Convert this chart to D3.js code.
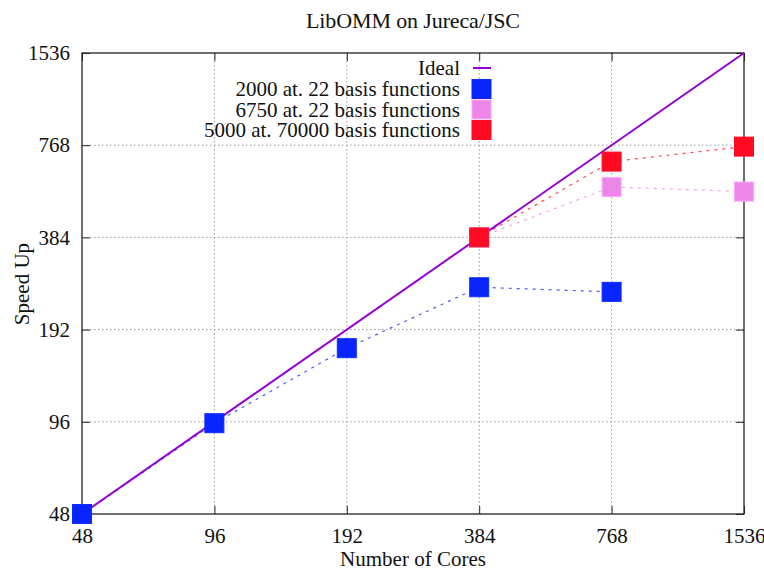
<!DOCTYPE html>
<html>
<head>
<meta charset="utf-8">
<script src="https://cdn.jsdelivr.net/npm/d3@7"></script>
<style>
    body { margin: 0; background: #fff; font-family: "Liberation Serif", serif; }
    .grid-line { stroke: #999; stroke-width: 1; stroke-dasharray: 1.5 2.5; }
</style>
</head>
<body>
<div id="chart"></div>
<script>
const tickValues = [48, 96, 192, 384, 768, 1536];

const cores2000 = [48, 96, 192, 384, 768];
const speed2000 = [48, 95, 167, 264, 255];

const cores6750 = [384, 768, 1536];
const speed6750 = [384, 561, 542];

const cores5000 = [384, 768, 1536];
const speed5000 = [384, 679, 760];

const idealCores = [48, 1536];
const idealSpeed = [48, 1536];

const seriesNames = ["2000 at. 22 basis functions", "6750 at. 22 basis functions", "5000 at. 70000 basis functions"];
const seriesColors = ["#0a24ff", "#ee85e8", "#ff0a20"];

const margin = { top: 53, right: 20, bottom: 57, left: 82 };
const width = 764 - margin.left - margin.right;
const height = 571 - margin.top - margin.bottom;

const svg = d3.select("#chart")
    .append("svg")
    .attr("width", 764)
    .attr("height", 571);

const g = svg.append("g")
    .attr("transform", `translate(${margin.left},${margin.top})`);

const xScale = d3.scaleLog().base(2).domain([48, 1536]).range([0, width]);
const yScale = d3.scaleLog().base(2).domain([48, 1536]).range([height, 0]);

// grid
g.selectAll(".x-grid")
    .data(tickValues.slice(1, -1))
    .enter()
    .append("line")
    .attr("class", "grid-line")
    .attr("x1", d => xScale(d))
    .attr("x2", d => xScale(d))
    .attr("y1", 0)
    .attr("y2", height);

g.selectAll(".y-grid")
    .data(tickValues.slice(1, -1))
    .enter()
    .append("line")
    .attr("class", "grid-line")
    .attr("x1", 0)
    .attr("x2", width)
    .attr("y1", d => yScale(d))
    .attr("y2", d => yScale(d));

// axes (ticks inward, mirrored)
const fmt = d => d;
const xAxis = g.append("g")
    .attr("transform", `translate(0,${height})`)
    .call(d3.axisBottom(xScale).tickValues(tickValues).tickFormat(fmt).tickSizeInner(-8).tickSizeOuter(0).tickPadding(14));
const yAxis = g.append("g")
    .call(d3.axisLeft(yScale).tickValues(tickValues).tickFormat(fmt).tickSizeInner(-8).tickSizeOuter(0).tickPadding(12));
g.append("g")
    .call(d3.axisTop(xScale).tickValues(tickValues).tickFormat("").tickSizeInner(-8).tickSizeOuter(0));
g.append("g")
    .attr("transform", `translate(${width},0)`)
    .call(d3.axisRight(yScale).tickValues(tickValues).tickFormat("").tickSizeInner(-8).tickSizeOuter(0));

g.selectAll(".domain").remove();
g.selectAll(".tick line").attr("stroke", "#222");
xAxis.selectAll("text").style("font-size", "21px");
yAxis.selectAll("text").style("font-size", "21px");

g.append("rect")
    .attr("width", width)
    .attr("height", height)
    .attr("fill", "none")
    .attr("stroke", "#222")
    .attr("stroke-width", 1.3);

// title & labels
svg.append("text")
    .attr("x", 413)
    .attr("y", 28)
    .attr("text-anchor", "middle")
    .attr("textLength", 214)
    .attr("lengthAdjust", "spacing")
    .style("font-size", "22px")
    .text("LibOMM on Jureca/JSC");

svg.append("text")
    .attr("x", 413)
    .attr("y", 566)
    .attr("text-anchor", "middle")
    .style("font-size", "21px")
    .text("Number of Cores");

svg.append("text")
    .attr("transform", "rotate(-90)")
    .attr("x", -284)
    .attr("y", 29)
    .attr("text-anchor", "middle")
    .style("font-size", "21px")
    .text("Speed Up");

// ideal line
const idealData = idealCores.map((c, i) => ({ c: c, s: idealSpeed[i] }));
const line = d3.line()
    .x(d => xScale(d.c))
    .y(d => yScale(d.s));

const series = [
    { cores: cores2000, speed: speed2000 },
    { cores: cores6750, speed: speed6750 },
    { cores: cores5000, speed: speed5000 }
].map((s, i) => ({
    name: seriesNames[i],
    color: seriesColors[i],
    values: s.cores.map((c, j) => ({ c: c, s: s.speed[j] }))
}));

// dashed connectors
series.forEach(s => {
    g.append("path")
        .datum(s.values)
        .attr("d", line)
        .attr("fill", "none")
        .attr("stroke", s.color)
        .attr("stroke-width", 1.2)
        .attr("stroke-opacity", 0.75)
        .attr("stroke-dasharray", "3 5");
});

g.append("path")
    .datum(idealData)
    .attr("d", line)
    .attr("fill", "none")
    .attr("stroke", "#9400d3")
    .attr("stroke-width", 2);

// markers
const size = 19;
series.forEach(s => {
    g.selectAll(null)
        .data(s.values)
        .enter()
        .append("rect")
        .attr("x", d => xScale(d.c) - size / 2)
        .attr("y", d => yScale(d.s) - size / 2)
        .attr("width", size)
        .attr("height", size)
        .attr("fill", s.color)
        .attr("stroke", d3.color(s.color).brighter(0.6))
        .attr("stroke-width", 1);
});

// legend
const legend = svg.append("g");
const legendX = 460;
const legendRows = [68, 89, 109.5, 130];

legend.append("text")
    .attr("x", legendX)
    .attr("y", legendRows[0])
    .attr("dy", "0.35em")
    .attr("text-anchor", "end")
    .style("font-size", "21px")
    .text("Ideal");

legend.append("line")
    .attr("x1", 473)
    .attr("x2", 491)
    .attr("y1", legendRows[0])
    .attr("y2", legendRows[0])
    .attr("stroke", "#9400d3")
    .attr("stroke-width", 2);

series.forEach((s, i) => {
    const y = legendRows[i + 1];
    legend.append("text")
        .attr("x", legendX)
        .attr("y", y)
        .attr("dy", "0.35em")
        .attr("text-anchor", "end")
        .style("font-size", "21px")
        .text(s.name);
    legend.append("rect")
        .attr("x", 481.5 - size / 2)
        .attr("y", y - size / 2)
        .attr("width", size)
        .attr("height", size)
        .attr("fill", s.color)
        .attr("stroke", d3.color(s.color).brighter(0.6))
        .attr("stroke-width", 1);
});

// every text in the same serif face
svg.selectAll("g").attr("font-family", null);
svg.selectAll("text")
    .style("font-family", "Liberation Serif")
    .attr("fill", "#111");
</script>
</body>
</html>
